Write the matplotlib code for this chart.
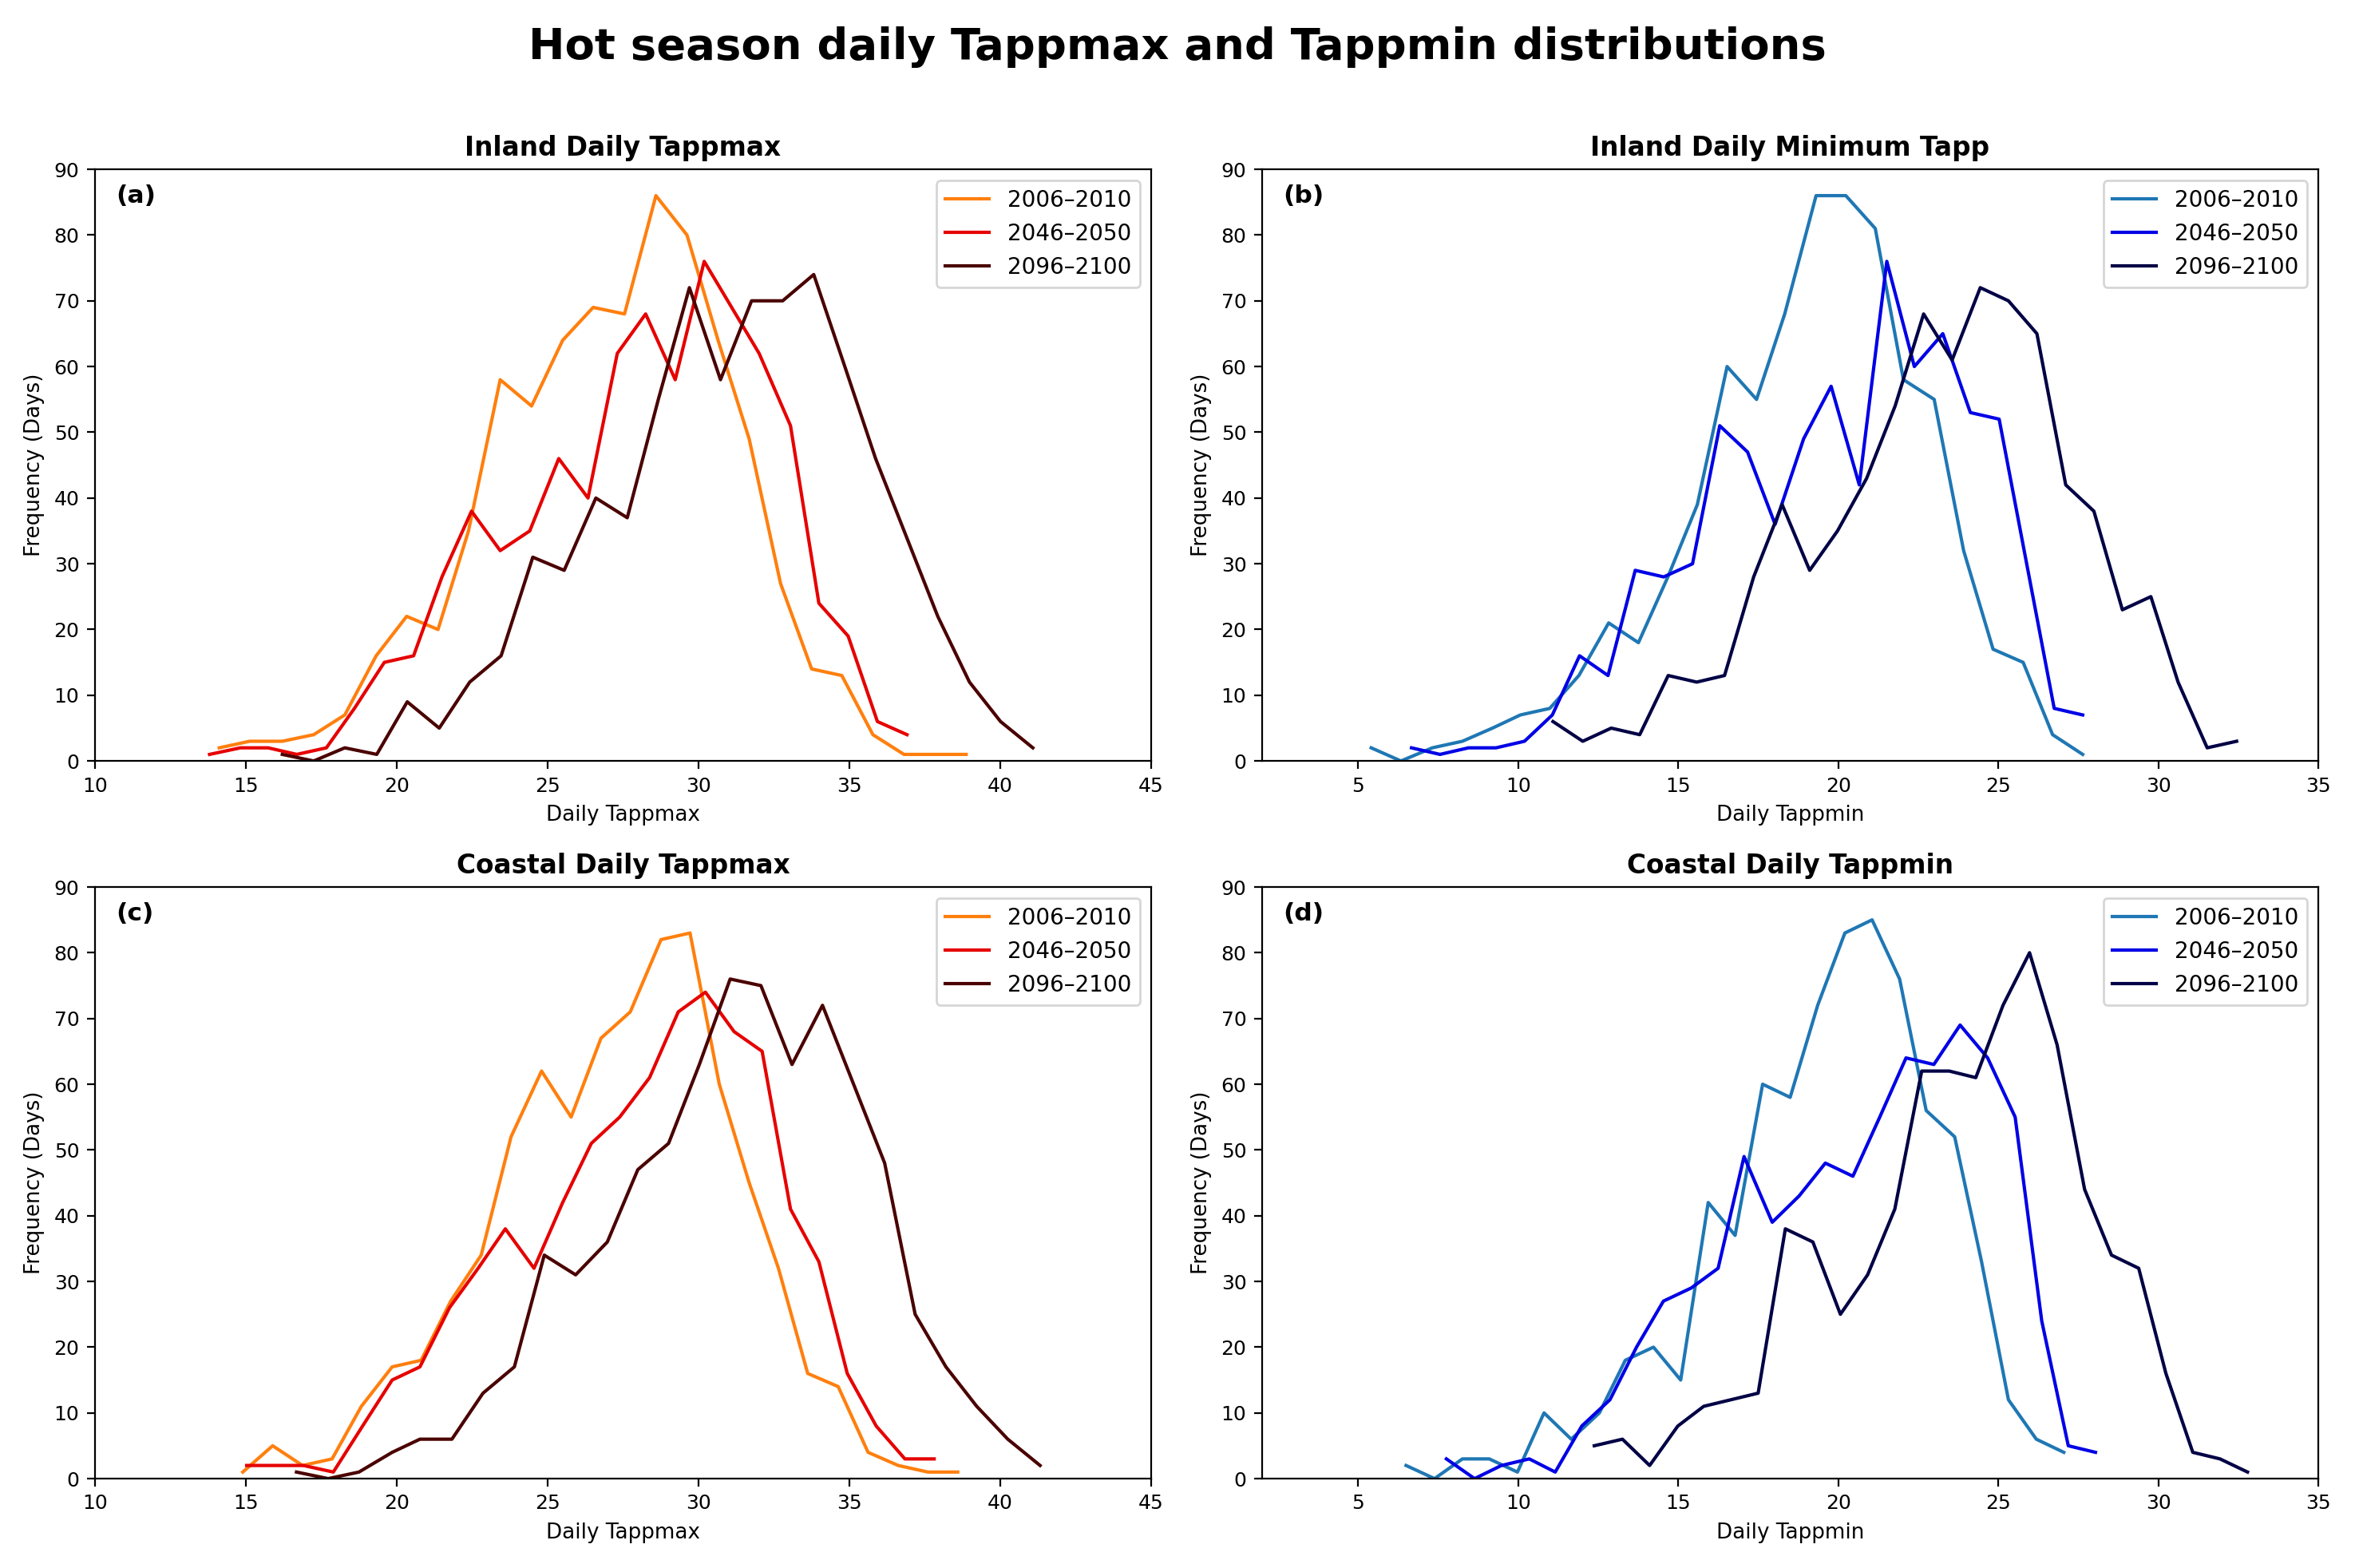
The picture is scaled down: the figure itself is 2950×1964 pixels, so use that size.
import matplotlib
matplotlib.use("Agg")
import matplotlib.pyplot as plt

# series labels and colours
periods = ["2006–2010", "2046–2050", "2096–2100"]
warm_colors = ["#ff7f0e", "#e60000", "#4a0000"]
cool_colors = ["#1f77b4", "#0000e6", "#000045"]

# (a) Inland daily Tappmax
a_x_2006 = [14.12, 15.13, 16.21, 17.25, 18.28, 19.32, 20.33, 21.37, 22.38, 23.43, 24.47, 25.5, 26.51,
            27.55, 28.59, 29.62, 30.65, 31.68, 32.72, 33.75, 34.75, 35.78, 36.81, 37.84, 38.87]
a_y_2006 = [2, 3, 3, 4, 7, 16, 22, 20, 35, 58, 54, 64, 69, 68, 86, 80, 64, 49, 27, 14, 13, 4, 1, 1, 1]
a_x_2046 = [13.8, 14.82, 15.74, 16.69, 17.67, 18.6, 19.59, 20.56, 21.5, 22.48, 23.43, 24.41, 25.37,
            26.34, 27.31, 28.25, 29.23, 30.19, 31.1, 32.01, 33.05, 33.99, 34.96, 35.93, 36.91]
a_y_2046 = [1, 2, 2, 1, 2, 8, 15, 16, 28, 38, 32, 35, 46, 40, 62, 68, 58, 76, 69, 62, 51, 24, 19, 6, 4]
a_x_2096 = [16.21, 17.25, 18.28, 19.34, 20.35, 21.41, 22.42, 23.46, 24.51, 25.55, 26.6, 27.64, 28.67,
            29.7, 30.73, 31.76, 32.79, 33.82, 34.85, 35.87, 36.9, 37.93, 38.98, 40.01, 41.08]
a_y_2096 = [1, 0, 2, 1, 9, 5, 12, 16, 31, 29, 40, 37, 55, 72, 58, 70, 70, 74, 60, 46, 34, 22, 12, 6, 2]

# (b) Inland daily minimum Tapp
b_x_2006 = [5.41, 6.34, 7.32, 8.26, 9.2, 10.07, 10.99, 11.9, 12.83, 13.76, 14.68, 15.6, 16.53,
            17.45, 18.33, 19.31, 20.24, 21.16, 22.04, 23.0, 23.92, 24.84, 25.78, 26.7, 27.64]
b_y_2006 = [2, 0, 2, 3, 5, 7, 8, 13, 21, 18, 28, 39, 60, 55, 68, 86, 86, 81, 58, 55, 32, 17, 15, 4, 1]
b_x_2046 = [6.67, 7.56, 8.45, 9.31, 10.2, 11.07, 11.92, 12.81, 13.66, 14.55, 15.45, 16.3, 17.17,
            18.03, 18.92, 19.78, 20.66, 21.52, 22.38, 23.27, 24.13, 25.03, 25.89, 26.75, 27.64]
b_y_2046 = [2, 1, 2, 2, 3, 7, 16, 13, 29, 28, 30, 51, 47, 36, 49, 57, 42, 76, 60, 65, 53, 52, 30, 8, 7]
b_x_2096 = [11.09, 12.02, 12.91, 13.8, 14.69, 15.58, 16.45, 17.36, 18.25, 19.11, 19.98, 20.89, 21.78,
            22.67, 23.56, 24.44, 25.32, 26.21, 27.11, 27.99, 28.88, 29.77, 30.62, 31.53, 32.45]
b_y_2096 = [6, 3, 5, 4, 13, 12, 13, 28, 39, 29, 35, 43, 54, 68, 61, 72, 70, 65, 42, 38, 23, 25, 12, 2, 3]

# (c) Coastal daily Tappmax
c_x_2006 = [14.9, 15.89, 16.88, 17.86, 18.83, 19.85, 20.81, 21.79, 22.8, 23.79, 24.8, 25.78, 26.77,
            27.74, 28.76, 29.72, 30.69, 31.68, 32.65, 33.62, 34.63, 35.62, 36.62, 37.6, 38.59]
c_y_2006 = [1, 5, 2, 3, 11, 17, 18, 27, 34, 52, 62, 55, 67, 71, 82, 83, 60, 45, 32, 16, 14, 4, 2, 1, 1]
c_x_2046 = [15.03, 16.0, 16.91, 17.9, 18.87, 19.85, 20.77, 21.75, 22.7, 23.6, 24.55, 25.5, 26.45,
            27.39, 28.38, 29.33, 30.23, 31.18, 32.11, 33.05, 33.99, 34.93, 35.89, 36.84, 37.81]
c_y_2046 = [2, 2, 2, 1, 8, 15, 17, 26, 32, 38, 32, 42, 51, 55, 61, 71, 74, 68, 65, 41, 33, 16, 8, 3, 3]
c_x_2096 = [16.68, 17.73, 18.75, 19.85, 20.77, 21.83, 22.86, 23.9, 24.89, 25.93, 26.98, 27.99, 29.01,
            30.03, 31.05, 32.07, 33.1, 34.11, 35.14, 36.17, 37.18, 38.2, 39.22, 40.25, 41.32]
c_y_2096 = [1, 0, 1, 4, 6, 6, 13, 17, 34, 31, 36, 47, 51, 63, 76, 75, 63, 72, 60, 48, 25, 17, 11, 6, 2]

# (d) Coastal daily Tappmin
d_x_2006 = [6.5, 7.39, 8.26, 9.1, 9.98, 10.81, 11.66, 12.54, 13.35, 14.23, 15.08, 15.94, 16.78,
            17.64, 18.5, 19.36, 20.21, 21.06, 21.92, 22.75, 23.64, 24.48, 25.32, 26.19, 27.05]
d_y_2006 = [2, 0, 3, 3, 1, 10, 6, 10, 18, 20, 15, 42, 37, 60, 58, 72, 83, 85, 76, 56, 52, 33, 12, 6, 4]
d_x_2046 = [7.76, 8.64, 9.48, 10.35, 11.16, 11.99, 12.87, 13.7, 14.54, 15.41, 16.25, 17.06, 17.94,
            18.78, 19.6, 20.46, 21.3, 22.12, 22.99, 23.81, 24.67, 25.53, 26.36, 27.19, 28.04]
d_y_2046 = [3, 0, 2, 3, 1, 8, 12, 20, 27, 29, 32, 49, 39, 43, 48, 46, 55, 64, 63, 69, 64, 55, 24, 5, 4]
d_x_2096 = [12.38, 13.26, 14.11, 14.99, 15.8, 16.65, 17.5, 18.35, 19.21, 20.07, 20.92, 21.77, 22.61,
            23.47, 24.3, 25.15, 25.98, 26.84, 27.7, 28.54, 29.39, 30.24, 31.08, 31.93, 32.79]
d_y_2096 = [5, 6, 2, 8, 11, 12, 13, 38, 36, 25, 31, 41, 62, 62, 61, 72, 80, 66, 44, 34, 32, 16, 4, 3, 1]

panels = [
    ("(a)", "Inland Daily Tappmax", "Daily Tappmax", (10, 45), warm_colors,
     [(a_x_2006, a_y_2006), (a_x_2046, a_y_2046), (a_x_2096, a_y_2096)]),
    ("(b)", "Inland Daily Minimum Tapp", "Daily Tappmin", (2, 35), cool_colors,
     [(b_x_2006, b_y_2006), (b_x_2046, b_y_2046), (b_x_2096, b_y_2096)]),
    ("(c)", "Coastal Daily Tappmax", "Daily Tappmax", (10, 45), warm_colors,
     [(c_x_2006, c_y_2006), (c_x_2046, c_y_2046), (c_x_2096, c_y_2096)]),
    ("(d)", "Coastal Daily Tappmin", "Daily Tappmin", (2, 35), cool_colors,
     [(d_x_2006, d_y_2006), (d_x_2046, d_y_2046), (d_x_2096, d_y_2096)]),
]

fig, axes = plt.subplots(2, 2, figsize=(14.75, 9.82), dpi=200)
fig.subplots_adjust(left=0.0403, right=0.9844, top=0.892, bottom=0.057,
                    wspace=0.105, hspace=0.213)

for ax, (tag, title, xlabel, xlim, colors, series) in zip(axes.flat, panels):
    for (xs, ys), col, lab in zip(series, colors, periods):
        ax.plot(xs, ys, color=col, lw=1.5, label=lab)
    ax.set_xlim(*xlim)
    ax.set_ylim(0, 90)
    ax.set_yticks(range(0, 91, 10))
    ax.set_title(title, fontsize=11.8, fontweight="bold")
    ax.set_xlabel(xlabel, fontsize=9.4)
    ax.set_ylabel("Frequency (Days)", fontsize=9.4)
    ax.tick_params(labelsize=9.0)
    ax.text(0.02, 0.975, tag, transform=ax.transAxes, fontsize=11.3,
            fontweight="bold", va="top", ha="left")
    ax.legend(loc="upper right", fontsize=10.0)

fig.suptitle("Hot season daily Tappmax and Tappmin distributions",
             fontsize=19.6, fontweight="bold", x=0.5, y=0.983, va="top")

fig.savefig("out.png", dpi=200)
